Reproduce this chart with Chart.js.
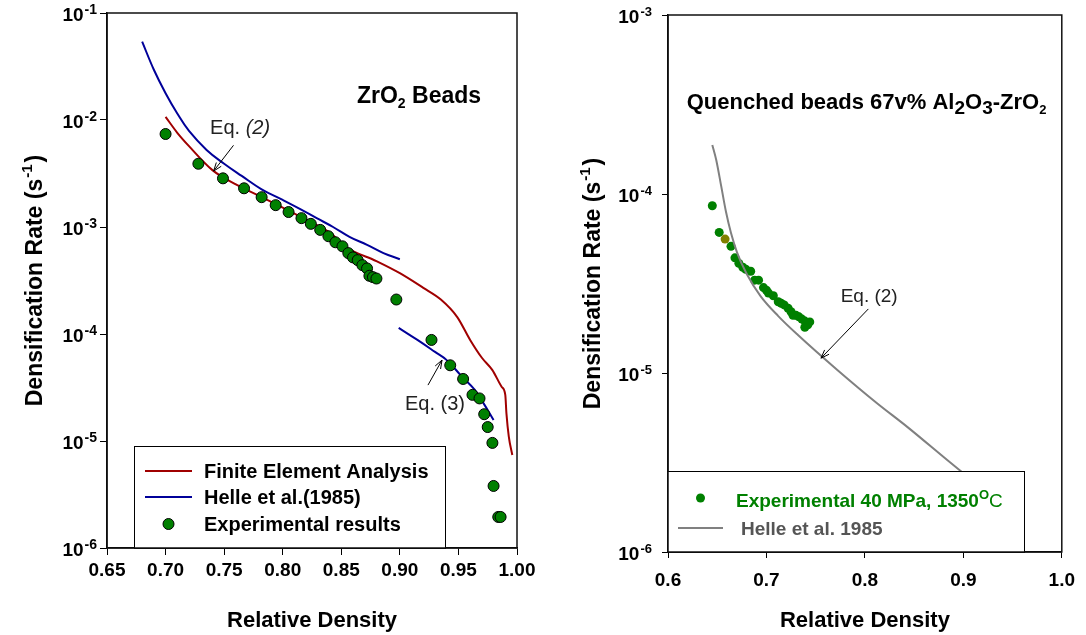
<!DOCTYPE html>
<html>
<head>
<meta charset="utf-8">
<script src="https://cdn.jsdelivr.net/npm/chart.js@4.4.1/dist/chart.umd.min.js"></script>
<style>
    html, body { margin: 0; padding: 0; background: #fff; }
    #wrap { position: relative; width: 1086px; height: 635px; }
    canvas { position: absolute; top: 0; }
    #leftChart { left: 0; }
    #rightChart { left: 543px; }
</style>
</head>
<body>
<div id="wrap">
    <canvas id="leftChart" width="543" height="635"></canvas>
    <canvas id="rightChart" width="543" height="635"></canvas>
</div>
<script>
// ---- left panel: ZrO2 beads ----
var feaX = [0.700, 0.710, 0.720, 0.740, 0.760, 0.780, 0.800, 0.820, 0.840, 0.855, 0.880, 0.900, 0.920, 0.935, 0.949, 0.960, 0.970, 0.979, 0.987, 0.990, 0.991, 0.993, 0.996];
var feaY = [1.07e-2, 7.6e-3, 5.7e-3, 3.4e-3, 2.5e-3, 1.95e-3, 1.52e-3, 1.17e-3, 8.9e-4, 6.4e-4, 4.8e-4, 3.7e-4, 2.7e-4, 2.1e-4, 1.44e-4, 8.8e-5, 6.0e-5, 4.6e-5, 3.2e-5, 2.7e-5, 1.8e-5, 1.1e-5, 7.4e-6];

var helleX1 = [0.680, 0.690, 0.700, 0.710, 0.720, 0.735, 0.750, 0.765, 0.782, 0.800, 0.815, 0.829, 0.843, 0.857, 0.872, 0.886, 0.900];
var helleY1 = [5.4e-2, 2.95e-2, 1.78e-2, 1.15e-2, 7.9e-3, 5.25e-3, 3.9e-3, 3.0e-3, 2.25e-3, 1.79e-3, 1.47e-3, 1.21e-3, 1.0e-3, 8.1e-4, 6.8e-4, 5.7e-4, 5.0e-4];

var helleX2 = [0.899, 0.915, 0.930, 0.940, 0.953, 0.964, 0.972, 0.980];
var helleY2 = [1.14e-4, 8.8e-5, 6.8e-5, 5.7e-5, 4.0e-5, 3.0e-5, 2.2e-5, 1.57e-5];

var expX = [0.700, 0.728, 0.749, 0.767, 0.782, 0.794, 0.805, 0.816, 0.824, 0.832, 0.839, 0.845, 0.851, 0.856, 0.860, 0.864, 0.868, 0.872, 0.874, 0.877, 0.880, 0.897, 0.927, 0.943, 0.954, 0.962, 0.968, 0.972, 0.975, 0.979, 0.980, 0.984, 0.986];
var expY = [7.4e-3, 3.9e-3, 2.85e-3, 2.3e-3, 1.9e-3, 1.6e-3, 1.38e-3, 1.21e-3, 1.07e-3, 9.4e-4, 8.2e-4, 7.2e-4, 6.6e-4, 5.7e-4, 5.2e-4, 4.9e-4, 4.4e-4, 4.1e-4, 3.5e-4, 3.4e-4, 3.3e-4, 2.1e-4, 8.8e-5, 5.1e-5, 3.8e-5, 2.7e-5, 2.5e-5, 1.78e-5, 1.35e-5, 9.6e-6, 3.8e-6, 1.95e-6, 1.95e-6];

var leftXTicks = [0.65, 0.70, 0.75, 0.80, 0.85, 0.90, 0.95, 1.00];
var leftYTicks = [1e-6, 1e-5, 1e-4, 1e-3, 1e-2, 1e-1];

// ---- right panel: quenched beads 67v% Al2O3-ZrO2 ----
var helleRX = [0.645, 0.649, 0.654, 0.659, 0.664, 0.670, 0.680, 0.694, 0.712, 0.732, 0.772, 0.812, 0.843, 0.896, 0.933];
var helleRY = [1.88e-4, 1.55e-4, 1.11e-4, 7.9e-5, 6.05e-5, 4.74e-5, 3.57e-5, 2.69e-5, 2.08e-5, 1.63e-5, 1.04e-5, 6.8e-6, 5.0e-6, 2.87e-6, 2.0e-6];

var rightExpX = [0.645, 0.652, 0.664, 0.668, 0.672, 0.676, 0.679, 0.684, 0.688, 0.692, 0.697, 0.700, 0.702, 0.707, 0.712, 0.715, 0.718, 0.722, 0.725, 0.727, 0.730, 0.733, 0.736, 0.739, 0.739, 0.742, 0.744];
var rightExpY = [8.6e-5, 6.1e-5, 5.1e-5, 4.4e-5, 4.1e-5, 3.9e-5, 3.8e-5, 3.7e-5, 3.3e-5, 3.3e-5, 3.0e-5, 2.9e-5, 2.8e-5, 2.7e-5, 2.5e-5, 2.45e-5, 2.4e-5, 2.3e-5, 2.2e-5, 2.1e-5, 2.1e-5, 2.06e-5, 2.0e-5, 1.95e-5, 1.8e-5, 1.86e-5, 1.93e-5];
var rightOddX = [0.658];
var rightOddY = [5.6e-5];

var rightXTicks = [0.6, 0.7, 0.8, 0.9, 1.0];
var rightYTicks = [1e-6, 1e-5, 1e-4, 1e-3];

var FONT = 'Arial, "Liberation Sans", Helvetica, sans-serif';
Chart.defaults.font.family = FONT;

function pts(xs, ys) {
    return xs.map(function (x, i) { return { x: x, y: ys[i] }; });
}

function fnt(size, weight, style) {
    return (style || 'normal') + ' ' + (weight || 'normal') + ' ' + size + 'px ' + FONT;
}

// draw a row of text pieces (used for super/subscripts)
function drawParts(ctx, x, y, parts, align) {
    var w = 0;
    parts.forEach(function (p) {
        ctx.font = p.font;
        w += ctx.measureText(p.t).width + (p.gap || 0);
    });
    var cx = x;
    if (align === 'right') cx = x - w;
    if (align === 'center') cx = x - w / 2;
    ctx.textAlign = 'left';
    ctx.textBaseline = 'alphabetic';
    parts.forEach(function (p) {
        ctx.font = p.font;
        ctx.fillStyle = p.color || '#000';
        ctx.fillText(p.t, cx, y + (p.dy || 0));
        cx += ctx.measureText(p.t).width + (p.gap || 0);
    });
}

function arrow(ctx, x1, y1, x2, y2) {
    var ang = Math.atan2(y2 - y1, x2 - x1);
    ctx.beginPath();
    ctx.moveTo(x1, y1);
    ctx.lineTo(x2, y2);
    ctx.moveTo(x2 - 9 * Math.cos(ang - 0.35), y2 - 9 * Math.sin(ang - 0.35));
    ctx.lineTo(x2, y2);
    ctx.lineTo(x2 - 9 * Math.cos(ang + 0.35), y2 - 9 * Math.sin(ang + 0.35));
    ctx.strokeStyle = '#000';
    ctx.lineWidth = 1;
    ctx.stroke();
}

var decor = {
    id: 'decor',
    afterDatasetsDraw: function (chart, args, o) {
        var ctx = chart.ctx, a = chart.chartArea, lg = o.legend;
        if (!lg) return;
        ctx.save();
        var bx = a.left + lg.left, by = a.bottom - lg.height;
        ctx.fillStyle = '#fff';
        ctx.fillRect(bx, by, lg.width, lg.height);
        ctx.strokeStyle = '#000';
        ctx.lineWidth = 1;
        ctx.strokeRect(bx + 0.5, by + 0.5, lg.width, lg.height);
        lg.items.forEach(function (it) {
            var ds = chart.data.datasets[it.ds];
            var y = by + it.dy;
            if (it.kind === 'line') {
                ctx.beginPath();
                ctx.moveTo(bx + lg.symX, y);
                ctx.lineTo(bx + lg.symX + lg.symW, y);
                ctx.strokeStyle = ds.borderColor;
                ctx.lineWidth = ds.borderWidth;
                ctx.stroke();
            } else {
                ctx.beginPath();
                ctx.arc(bx + lg.symX + lg.symW / 2, y, ds.pointRadius, 0, Math.PI * 2);
                ctx.fillStyle = ds.pointBackgroundColor;
                ctx.fill();
                if (ds.pointBorderWidth) {
                    ctx.strokeStyle = ds.pointBorderColor;
                    ctx.lineWidth = ds.pointBorderWidth;
                    ctx.stroke();
                }
            }
            drawParts(ctx, bx + it.textX, y + it.base, it.parts, 'left');
        });
        ctx.restore();
    },
    afterDraw: function (chart, args, o) {
        var ctx = chart.ctx, a = chart.chartArea;
        var xs = chart.scales.x, ys = chart.scales.y;
        ctx.save();
        // box around the plot
        ctx.strokeStyle = '#111';
        ctx.lineWidth = 1.5;
        ctx.strokeRect(a.left, a.top, a.right - a.left, a.bottom - a.top);

        // y tick labels 10^n
        o.yTicks.forEach(function (v) {
            var py = ys.getPixelForValue(v);
            var e = Math.round(Math.log10(v));
            drawParts(ctx, a.left - o.yLabelGap, py + 8, [
                { t: '10', font: fnt(19, 'bold'), gap: 1 },
                { t: String(e), font: fnt(o.expSize, 'bold'), dy: -7 }
            ], 'right');
        });

        // y title, rotated
        ctx.save();
        ctx.translate(o.yTitleX, (a.top + a.bottom) / 2);
        ctx.rotate(-Math.PI / 2);
        drawParts(ctx, 0, 8, [
            { t: 'Densification Rate (s', font: fnt(23, 'bold'), gap: 1 },
            { t: '-1', font: fnt(15, 'bold'), dy: -10, gap: 2 },
            { t: ')', font: fnt(23, 'bold') }
        ], 'center');
        ctx.restore();

        // x title
        drawParts(ctx, (a.left + a.right) / 2, o.xTitleY, [
            { t: 'Relative Density', font: fnt(22, 'bold') }
        ], 'center');

        // panel title
        drawParts(ctx, xs.getPixelForValue(o.title.x), ys.getPixelForValue(o.title.y), o.title.parts, 'left');

        // equation notes with arrows
        o.notes.forEach(function (n) {
            drawParts(ctx, xs.getPixelForValue(n.x), ys.getPixelForValue(n.y), n.parts, 'left');
            arrow(ctx, xs.getPixelForValue(n.from[0]), ys.getPixelForValue(n.from[1]),
                xs.getPixelForValue(n.to[0]), ys.getPixelForValue(n.to[1]));
        });
        ctx.restore();
    }
};

function makeOptions(p) {
    var axisGrid = { drawOnChartArea: false, drawTicks: true, tickLength: p.tickLen, color: '#000', lineWidth: 1 };
    return {
        responsive: false,
        animation: false,
        events: [],
        layout: { padding: { top: p.top, right: p.right, left: 0, bottom: 0 } },
        plugins: {
            legend: { display: false },
            tooltip: { enabled: false },
            decor: p.decor
        },
        scales: {
            x: {
                type: 'linear',
                min: p.xTicks[0],
                max: p.xTicks[p.xTicks.length - 1],
                afterBuildTicks: function (s) {
                    s.ticks = p.xTicks.map(function (v) { return { value: v }; });
                },
                afterFit: function (s) { s.height = p.xAxisH; },
                grid: axisGrid,
                border: { color: '#000', width: 1.5 },
                ticks: {
                    font: { size: 19, weight: 'bold' },
                    color: '#000',
                    padding: p.xPad,
                    maxRotation: 0,
                    autoSkip: false,
                    callback: function (v) { return Number(v).toFixed(p.xDigits); }
                }
            },
            y: {
                type: 'logarithmic',
                min: p.yTicks[0],
                max: p.yTicks[p.yTicks.length - 1],
                afterBuildTicks: function (s) {
                    s.ticks = p.yTicks.map(function (v) { return { value: v, major: true }; });
                },
                afterFit: function (s) { s.width = p.yAxisW; },
                grid: axisGrid,
                border: { color: '#000', width: 1.5 },
                ticks: { callback: function () { return ''; } }
            }
        }
    };
}

// left chart
new Chart(document.getElementById('leftChart'), {
    type: 'scatter',
    data: {
        datasets: [
            {
                label: 'Experimental results',
                data: pts(expX, expY),
                pointRadius: 5.5,
                pointBackgroundColor: '#008000',
                pointBorderColor: '#000',
                pointBorderWidth: 1
            },
            {
                label: 'Finite Element Analysis',
                data: pts(feaX, feaY),
                showLine: true,
                borderColor: '#a00000',
                borderWidth: 2,
                pointRadius: 0,
                cubicInterpolationMode: 'monotone'
            },
            {
                label: 'Helle et al.(1985)',
                data: pts(helleX1, helleY1),
                showLine: true,
                borderColor: '#000099',
                borderWidth: 2,
                pointRadius: 0,
                tension: 0.4
            },
            {
                label: 'Helle et al.(1985) eq3',
                data: pts(helleX2, helleY2),
                showLine: true,
                borderColor: '#000099',
                borderWidth: 2,
                pointRadius: 0,
                tension: 0.4
            }
        ]
    },
    options: makeOptions({
        top: 13, right: 26, xAxisH: 87, yAxisW: 107, tickLen: 7, xPad: 4, xDigits: 2,
        xTicks: leftXTicks, yTicks: leftYTicks,
        decor: {
            yTicks: leftYTicks,
            yLabelGap: 10,
            expSize: 14,
            yTitleX: 34,
            xTitleY: 627,
            title: {
                x: 0.8634, y: 1.44e-2,
                parts: [
                    { t: 'ZrO', font: fnt(23, 'bold') },
                    { t: '2', font: fnt(14, 'bold'), dy: 5 },
                    { t: ' Beads', font: fnt(23, 'bold') }
                ]
            },
            notes: [
                {
                    x: 0.738, y: 7.4e-3,
                    parts: [{ t: 'Eq. ', font: fnt(20), color: '#222' }, { t: '(2)', font: fnt(20, 'normal', 'italic'), color: '#222' }],
                    from: [0.758, 5.8e-3], to: [0.741, 3.33e-3]
                },
                {
                    x: 0.9044, y: 1.95e-5,
                    parts: [{ t: 'Eq. (3)', font: fnt(20), color: '#222' }],
                    from: [0.924, 3.33e-5], to: [0.936, 5.7e-5]
                }
            ],
            legend: {
                left: 27, width: 311, height: 102, symX: 11, symW: 47,
                items: [
                    { ds: 1, kind: 'line', dy: 25, textX: 70, base: 7, parts: [{ t: 'Finite Element Analysis', font: fnt(20, 'bold') }] },
                    { ds: 2, kind: 'line', dy: 51, textX: 70, base: 7, parts: [{ t: 'Helle et al.(1985)', font: fnt(20, 'bold') }] },
                    { ds: 0, kind: 'point', dy: 78, textX: 70, base: 7, parts: [{ t: 'Experimental results', font: fnt(20, 'bold') }] }
                ]
            }
        }
    }),
    plugins: [decor]
});

// right chart
new Chart(document.getElementById('rightChart'), {
    type: 'scatter',
    data: {
        datasets: [
            {
                label: 'Helle et al. 1985',
                data: pts(helleRX, helleRY),
                showLine: true,
                borderColor: '#808080',
                borderWidth: 2,
                pointRadius: 0,
                cubicInterpolationMode: 'monotone'
            },
            {
                label: 'odd point',
                data: pts(rightOddX, rightOddY),
                pointRadius: 4.5,
                pointBackgroundColor: '#808000',
                pointBorderWidth: 0
            },
            {
                label: 'Experimental 40 MPa, 1350 C',
                data: pts(rightExpX, rightExpY),
                pointRadius: 4.5,
                pointBackgroundColor: '#008000',
                pointBorderWidth: 0
            }
        ]
    },
    options: makeOptions({
        top: 15, right: 19, xAxisH: 83, yAxisW: 125, tickLen: 6, xPad: 11, xDigits: 1,
        xTicks: rightXTicks, yTicks: rightYTicks,
        decor: {
            yTicks: rightYTicks,
            yLabelGap: 16,
            expSize: 13,
            yTitleX: 49,
            xTitleY: 627,
            title: {
                x: 0.619, y: 2.99e-4,
                parts: [
                    { t: 'Quenched beads 67v% Al', font: fnt(22, 'bold') },
                    { t: '2', font: fnt(19, 'bold'), dy: 5 },
                    { t: 'O', font: fnt(22, 'bold') },
                    { t: '3', font: fnt(19, 'bold'), dy: 5 },
                    { t: '-ZrO', font: fnt(22, 'bold') },
                    { t: '2', font: fnt(13, 'bold'), dy: 5 }
                ]
            },
            notes: [
                {
                    x: 0.7754, y: 2.49e-5,
                    parts: [{ t: 'Eq. (2)', font: fnt(19), color: '#222' }],
                    from: [0.8035, 2.28e-5], to: [0.7554, 1.21e-5]
                }
            ],
            legend: {
                left: -1, width: 357, height: 81, symX: 11, symW: 45,
                items: [
                    {
                        ds: 2, kind: 'point', dy: 27, textX: 69, base: 9,
                        parts: [
                            { t: 'Experimental 40 MPa, 1350', font: fnt(19, 'bold'), color: '#008000' },
                            { t: 'O', font: fnt(13, 'bold'), color: '#008000', dy: -8 },
                            { t: 'C', font: fnt(19), color: '#008000' }
                        ]
                    },
                    {
                        ds: 0, kind: 'line', dy: 57, textX: 74, base: 7,
                        parts: [{ t: 'Helle et al. 1985', font: fnt(19, 'bold'), color: '#555' }]
                    }
                ]
            }
        }
    }),
    plugins: [decor]
});
</script>
</body>
</html>
